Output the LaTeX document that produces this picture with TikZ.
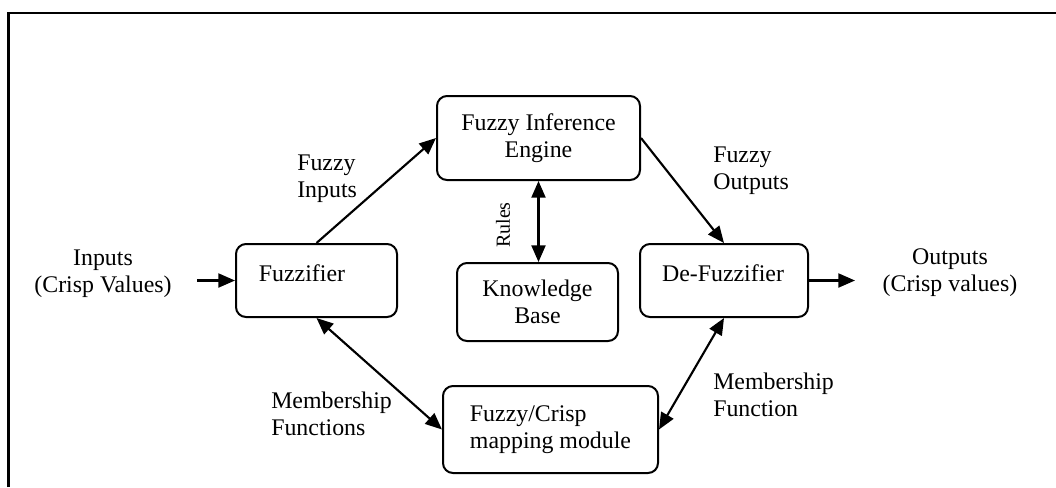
\documentclass[tikz,border=0pt]{standalone}
\usepackage{fontspec}
\setmainfont{Liberation Serif}
\usetikzlibrary{arrows.meta}
\begin{document}
\begin{tikzpicture}[x=0.75pt,y=-0.75pt,
  box/.style={draw,line width=1.5pt,rounded corners=7.5pt,inner sep=0pt,align=center,font=\fontsize{17.9}{20.3}\selectfont},
  txt/.style={inner sep=0pt,font=\fontsize{17.9}{20.3}\selectfont},
  arr/.style={line width=1.6pt,-{Triangle[length=12.5pt,width=10.5pt]}},
  darr/.style={line width=1.6pt,{Triangle[length=12.5pt,width=10.5pt]}-{Triangle[length=12.5pt,width=10.5pt]}},
  frame/.style={line width=1.6pt}]
\useasboundingbox (0,0) rectangle (1056,487);
% frame
\coordinate (fa) at (8.5,487);
\coordinate (fb) at (8.5,13);
\coordinate (fc) at (1056,13);
\draw[frame] (fa) -- (fb) -- (fc);
% boxes
\node[box,minimum width=152.25pt,minimum height=63pt] (fie) at (538.5,138) {Fuzzy Inference\\Engine};
\node[box,minimum width=120.75pt,minimum height=54.75pt] (fz) at (316.5,280.5) {};
\node[txt] (fzt) at (302,273) {Fuzzifier};
\node[box,minimum width=120.75pt,minimum height=58.5pt] (kb) at (537.5,302) {Knowledge\\Base};
\node[box,minimum width=126pt,minimum height=54.75pt] (dfz) at (724,280.5) {};
\node[txt] (dfzt) at (723,273) {De-Fuzzifier};
\node[box,align=left,minimum width=161.25pt,minimum height=65.25pt] (map) at (550.5,429.5) {Fuzzy/Crisp\\mapping module};
% labels
\node[txt,align=center] (inl) at (103,274) {Inputs\\(Crisp Values)};
\node[txt,align=center] (outl) at (950,272.5) {Outputs\\(Crisp values)};
\node[txt,align=left,anchor=west] (fil) at (297,179) {Fuzzy\\Inputs};
\node[txt,align=left,anchor=west] (fol) at (713,170.5) {Fuzzy\\Outputs};
\node[txt,align=left,anchor=west] (mfl) at (271,413.5) {Membership\\Functions};
\node[txt,align=left,anchor=west] (mfr) at (713,395) {Membership\\Function};
\node[inner sep=0pt,rotate=90,font=\fontsize{15}{18}\selectfont] (rl) at (503,225) {Rules};
% connectors
\coordinate (inp) at (197,280.5);
\coordinate (outp) at (855,280.5);
\draw[arr] (inp) -- (fz.west);
\draw[arr] (fz.north) -- (fie.west);
\draw[darr] (fie.south) -- (fie.south |- kb.north);
\draw[arr] (fie.east) -- (dfz.north);
\draw[arr] (dfz.east) -- (outp);
\draw[darr] (fz.south) -- (map.west);
\draw[darr] (dfz.south) -- (map.east);
\end{tikzpicture}
\end{document}
